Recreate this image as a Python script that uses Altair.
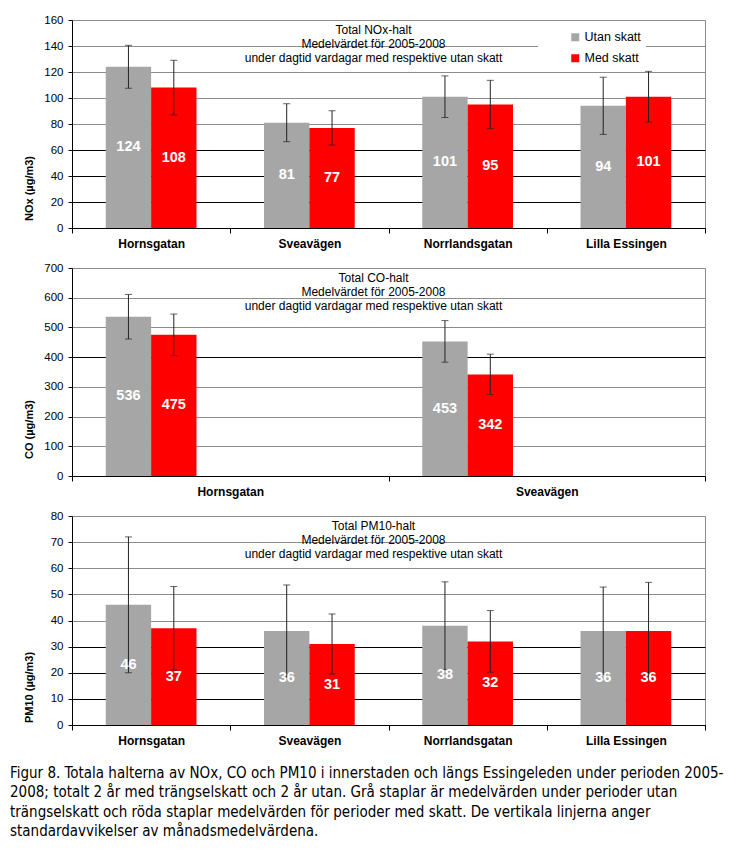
import altair as alt
import pandas as pd

FONT = "Liberation Sans, Arial, sans-serif"
CAP_FONT = "DejaVu Sans Condensed, Liberation Sans, sans-serif"

series = ["Utan skatt", "Med skatt"]
series_colors = ["#a6a6a6", "#ff0000"]

sites4 = ["Hornsgatan", "Sveavägen", "Norrlandsgatan", "Lilla Essingen"]
sites2 = ["Hornsgatan", "Sveavägen"]

nox_utan = [124, 81, 101, 94]
nox_med = [108, 77, 95, 101]
nox_utan_sd = [16.5, 14.6, 16.0, 22.0]
nox_med_sd = [21.0, 13.2, 18.6, 19.5]

co_utan = [536, 453]
co_med = [475, 342]
co_utan_sd = [75, 70]
co_med_sd = [70, 68]

pm_utan = [46, 36, 38, 36]
pm_med = [37, 31, 32, 36]
pm_utan_sd = [26.0, 17.6, 16.8, 16.8]
pm_med_sd = [16.0, 11.5, 11.8, 18.6]

subtitle_lines = ["Medelvärdet för 2005-2008", "under dagtid vardagar med respektive utan skatt"]

caption = [
    "Figur 8. Totala halterna av NOx, CO och PM10 i innerstaden och längs Essingeleden under perioden 2005-",
    "2008; totalt 2 år med trängselskatt och 2 år utan.  Grå staplar är medelvärden under perioder utan",
    "trängselskatt och röda staplar medelvärden för perioder med skatt. De vertikala linjerna anger",
    "standardavvikelser av månadsmedelvärdena.",
]

W = 633


def make_panel(sites, utan, med, usd, msd, ymax, ystep, head, ytitle, black_test, title_y, height):
    rows = []
    for i, s in enumerate(sites):
        for ser, vals, sds in ((series[0], utan, usd), (series[1], med, msd)):
            v = vals[i]
            sd = sds[i]
            rows.append({"site": s, "series": ser, "value": v, "low": v - sd,
                         "high": v + sd, "mid": v / 2})
    df = pd.DataFrame(rows)

    x = alt.X("site:N", sort=sites,
              scale=alt.Scale(paddingInner=0, paddingOuter=0),
              axis=alt.Axis(title=None, labelAngle=0, labelFontSize=12, labelFontWeight="bold",
                            labelColor="black", labelFont=FONT, tickBand="extent", tickSize=5,
                            tickColor="black", domainColor="black", labelPadding=5))
    xo = alt.XOffset("series:N", sort=series,
                     scale=alt.Scale(paddingInner=0, paddingOuter=0.744))
    yscale = alt.Scale(domain=[0, ymax], nice=False)
    yaxis = alt.Axis(values=list(range(0, ymax + 1, ystep)), title=ytitle,
                     labelOverlap=False,
                     titleFontSize=11, titleFontWeight="bold", titleColor="black",
                     titleFont=FONT, titleX=-43, titleY=title_y, titleAlign="center",
                     titleBaseline="middle", titleAngle=270,
                     labelFontSize=11.5, labelColor="black", labelFont=FONT,
                     labelPadding=5, tickSize=4, tickColor="black",
                     domainColor="black",
                     gridColor={"condition": {"test": black_test, "value": "#000000"},
                                "value": "#8c8c8c"})
    base = alt.Chart(df).encode(x=x, xOffset=xo)

    bars = base.mark_bar().encode(
        y=alt.Y("value:Q", scale=yscale, axis=yaxis),
        color=alt.Color("series:N", sort=series,
                        scale=alt.Scale(domain=series, range=series_colors),
                        legend=alt.Legend(title=None, orient="none", legendX=466, legendY=6,
                                          fillColor="white", padding=5, symbolType="square",
                                          symbolSize=64, symbolOffset=26, symbolStrokeWidth=0,
                                          labelFontSize=12.5, labelFont=FONT, labelColor="black",
                                          labelOffset=3, rowPadding=8)),
    )
    err = base.mark_rule(color="#222222", strokeWidth=1).encode(
        y=alt.Y("low:Q", scale=yscale, axis=yaxis), y2="high:Q")
    cap_lo = base.mark_tick(color="#222222", size=7, thickness=1).encode(
        y=alt.Y("low:Q", scale=yscale, axis=yaxis))
    cap_hi = base.mark_tick(color="#222222", size=7, thickness=1).encode(
        y=alt.Y("high:Q", scale=yscale, axis=yaxis))
    labels = base.mark_text(color="white", fontWeight="bold", fontSize=14.5, font=FONT).encode(
        y=alt.Y("mid:Q", scale=yscale, axis=yaxis), text="value:Q")

    return alt.layer(bars, err, cap_lo, cap_hi, labels).properties(
        width=W, height=height,
        title=alt.TitleParams(text=[head] + subtitle_lines, orient="top", anchor="middle",
                              frame="group", fontSize=12, fontWeight="normal", font=FONT,
                              color="black", lineHeight=14, offset=-51, dx=-15),
    )


p1 = make_panel(sites4, nox_utan, nox_med, nox_utan_sd, nox_med_sd, 160, 20,
                "Total NOx-halt", "NOx  (µg/m3)", "datum.value <= 60", 168, 208)
p2 = make_panel(sites2, co_utan, co_med, co_utan_sd, co_med_sd, 700, 100,
                "Total CO-halt", "CO  (µg/m3)", "datum.value == 400", 161, 208)
p3 = make_panel(sites4, pm_utan, pm_med, pm_utan_sd, pm_med_sd, 80, 10,
                "Total PM10-halt", "PM10  (µg/m3)", "datum.value <= 30", 171, 209)

chart = alt.vconcat(p1, p2, p3, spacing=40, bounds="flush").properties(
    title=alt.TitleParams(text=caption, orient="bottom", anchor="start", frame="group",
                          fontSize=15, fontWeight="normal", font=CAP_FONT, color="black",
                          lineHeight=19.5, offset=19, dx=-62)
).configure(
    padding={"left": 2, "top": 5, "right": 2, "bottom": 2}
).configure_view(stroke="#8c8c8c")

chart.save("out.html", embed_options={"renderer": "svg", "actions": False})
